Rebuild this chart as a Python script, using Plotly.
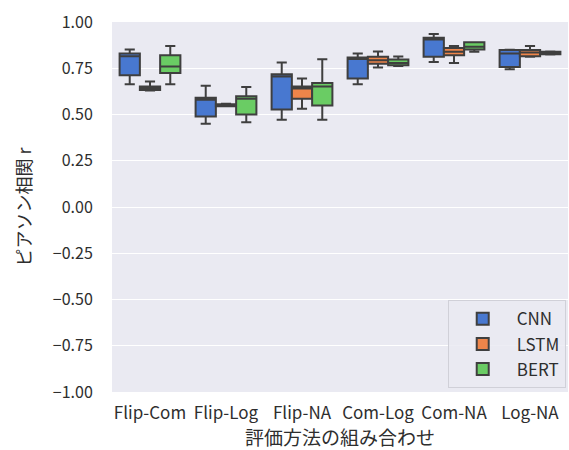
import plotly.graph_objects as go

categories = ["Flip-Com", "Flip-Log", "Flip-NA", "Com-Log", "Com-NA", "Log-NA"]
models = ["CNN", "LSTM", "BERT"]

cnn_lower = [0.663, 0.450, 0.471, 0.663, 0.784, 0.745]
cnn_q1 = [0.712, 0.489, 0.527, 0.694, 0.812, 0.757]
cnn_median = [0.815, 0.580, 0.705, 0.800, 0.905, 0.830]
cnn_q3 = [0.830, 0.590, 0.717, 0.808, 0.915, 0.848]
cnn_upper = [0.852, 0.656, 0.781, 0.830, 0.935, 0.850]

lstm_lower = [0.630, 0.545, 0.531, 0.754, 0.779, 0.812]
lstm_q1 = [0.633, 0.545, 0.585, 0.775, 0.820, 0.815]
lstm_median = [0.640, 0.550, 0.640, 0.793, 0.839, 0.835]
lstm_q3 = [0.652, 0.555, 0.652, 0.812, 0.860, 0.848]
lstm_upper = [0.678, 0.558, 0.694, 0.841, 0.870, 0.870]

bert_lower = [0.663, 0.458, 0.471, 0.762, 0.839, 0.825]
bert_q1 = [0.725, 0.500, 0.549, 0.766, 0.852, 0.826]
bert_median = [0.760, 0.585, 0.652, 0.779, 0.866, 0.833]
bert_q3 = [0.820, 0.598, 0.670, 0.797, 0.890, 0.839]
bert_upper = [0.870, 0.649, 0.799, 0.813, 0.890, 0.840]

colors = ["#4878D0", "#EE854A", "#6ACC64"]
stats = [
    (cnn_lower, cnn_q1, cnn_median, cnn_q3, cnn_upper),
    (lstm_lower, lstm_q1, lstm_median, lstm_q3, lstm_upper),
    (bert_lower, bert_q1, bert_median, bert_q3, bert_upper),
]

fig = go.Figure()
for name, color, (lo, q1, med, q3, up) in zip(models, colors, stats):
    fig.add_trace(go.Box(
        name=name, x=categories, lowerfence=lo, q1=q1, median=med, q3=q3, upperfence=up,
        fillcolor=color, line=dict(color="#3F3F3F", width=2), whiskerwidth=0.5,
        boxpoints=False, opacity=1,
    ))

font = "Noto Sans CJK JP, Noto Sans, sans-serif"
fig.update_layout(
    width=569, height=450,
    margin=dict(l=112, r=1, t=22, b=58),
    paper_bgcolor="white", plot_bgcolor="#EAEAF2",
    boxmode="group", boxgap=0.2, boxgroupgap=0,
    font=dict(family=font, size=16, color="#2E2E2E"),
    xaxis=dict(title=dict(text="評価方法の組み合わせ", standoff=0, font=dict(size=19)),
               showgrid=False, ticks="outside", ticklen=6, tickcolor="rgba(0,0,0,0)",
               tickfont=dict(size=17)),
    yaxis=dict(title=dict(text="ピアソン相関 r", standoff=16, font=dict(size=18)),
               range=[-1, 1], tickvals=[1, 0.75, 0.5, 0.25, 0, -0.25, -0.5, -0.75, -1],
               ticktext=["1.00", "0.75", "0.50", "0.25", "0.00", "−0.25", "−0.50", "−0.75", "−1.00"],
               gridcolor="white", gridwidth=1.2, zeroline=False,
               ticks="outside", ticklen=15, tickcolor="rgba(0,0,0,0)", tickfont=dict(size=16)),
    legend=dict(x=0.995, y=0.01, xanchor="right", yanchor="bottom",
                bgcolor="rgba(234,234,242,0.85)", bordercolor="#D0D0D8", borderwidth=1,
                font=dict(size=17), itemwidth=58, tracegroupgap=8),
    showlegend=True,
)

fig.write_html("out.html")
